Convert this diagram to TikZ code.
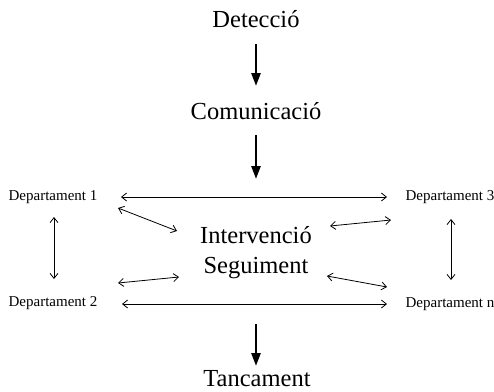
\documentclass[tikz,border=0pt]{standalone}
\usepackage{fontspec}
\setmainfont{Liberation Serif}
\usetikzlibrary{arrows.meta}
\begin{document}
\begin{tikzpicture}[x=1pt,y=-1pt,
  big/.style={font=\fontsize{24.5}{29}\selectfont, inner sep=0pt},
  dept/.style={font=\fontsize{15}{18}\selectfont, inner sep=0pt},
  flow/.style={line width=2.6pt, -{Triangle[width=9pt,length=13pt]}},
  link/.style={line width=0.8pt, {Straight Barb[length=5pt,width=8pt]}-{Straight Barb[length=5pt,width=8pt]}}]
\useasboundingbox (0,0) rectangle (494,391);
\fill[white] (0,0) rectangle (494,391);
\node[big] (det) at (256,19) {Detecció};
\node[big] (com) at (256,111) {Comunicació};
\node[big, align=center] (int) at (256,253) {Intervenció\\[1pt]Seguiment};
\node[big] (tan) at (257,379) {Tancament};
\node[dept] (d1) at (53,197) {Departament 1};
\node[dept] (d2) at (53,303) {Departament 2};
\node[dept] (d3) at (450,197) {Departament 3};
\node[dept] (dn) at (450,304) {Departament n};
\coordinate (a1s) at (256,44); \coordinate (a1e) at (256,86);
\coordinate (a2s) at (256,135); \coordinate (a2e) at (256,179);
\coordinate (a3s) at (256,324); \coordinate (a3e) at (256,366);
\draw[flow] (a1s) -- (a1e);
\draw[flow] (a2s) -- (a2e);
\draw[flow] (a3s) -- (a3e);
% horizontals
\draw[link] (121,197) -- (387,197);
\draw[link] (122,304) -- (387,304);
% verticals
\draw[link] (54,217) -- (54,279);
\draw[link] (451,219) -- (451,280);
% diagonals
\draw[link] (118,208) -- (177,231);
\draw[link] (118,283) -- (179,277);
\draw[link] (330,226) -- (391,220);
\draw[link] (327,276) -- (387,287);
\end{tikzpicture}
\end{document}
